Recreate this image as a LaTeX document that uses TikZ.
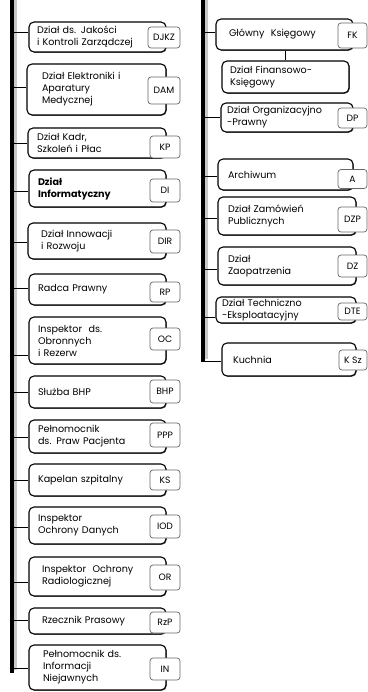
\documentclass[tikz,border=0pt]{standalone}
\usepackage{fontspec}
\setmainfont{Poppins}
\usetikzlibrary{shadows}
\tikzset{
  mainbox/.style={draw=black, line width=1.1pt, rounded corners=5pt, fill=white,
    align=left, font=\fontsize{9.6}{12}\selectfont, inner ysep=0pt,
    drop shadow={shadow xshift=0.8pt, shadow yshift=-0.8pt, opacity=0.55, fill=black}},
  codebox/.style={draw=black!60, line width=0.7pt, rounded corners=3pt, fill=white,
    font=\fontsize{9.2}{10}\selectfont, inner sep=0pt},
  bar/.style={line width=3.6pt, line cap=butt},
  barshadow/.style={line width=3pt, draw=black!30, opacity=0.7},
  conn/.style={line width=1pt}
}
% #1 name, #2 cx, #3 cy, #4 w, #5 h, #6 pad, #7 text
\newcommand{\obox}[7]{%
  \node[mainbox, minimum width=#4pt, minimum height=#5pt, inner xsep=#6pt,
    text width=#4pt-2*#6pt] (#1) at (#2,#3) {#7};}
% #1 name, #2 cx, #3 cy, #4 w, #5 h, #6 text
\newcommand{\cbox}[6]{%
  \node[codebox, minimum width=#4pt, minimum height=#5pt] (#1) at (#2,#3) {#6};}
\begin{document}
\begin{tikzpicture}[x=1pt,y=-1pt]
\useasboundingbox (0,0) rectangle (367,692);
% bars
\coordinate (LT) at (12,0);
\coordinate (LB) at (12,673);
\coordinate (RT) at (203,0);
\coordinate (RB) at (203,362);
\draw[barshadow] ([xshift=3pt]LT) -- ([xshift=3pt,yshift=3pt]LB);
\draw[barshadow] ([xshift=3pt]RT) -- ([xshift=3pt,yshift=3pt]RB);
\draw[bar] (LT) -- (LB);
\draw[bar] (RT) -- (RB);

% left column
\obox{b1}{97.5}{37}{137}{30}{8}{Dział ds. Jakości\\i Kontroli Zarządczej}
\obox{b2}{96.5}{89.5}{139}{51}{15}{Dział Elektroniki i\\Aparatury\\Medycznej}
\obox{b3}{97}{143}{138}{30}{9}{Dział Kadr,\\Szkoleń i Płac}
\obox{b4}{97.5}{188.5}{137}{37}{9}{\textbf{Dział}\\\textbf{Informatyczny}}
\obox{b5}{97}{241}{138}{36}{13}{Dział Innowacji\\i Rozwoju}
\obox{b6}{97.5}{289.5}{137}{31}{9}{Radca Prawny}
\obox{b7}{97.5}{340.5}{137}{47}{9}{Inspektor\ \ ds.\\Obronnych\\i Rezerw}
\obox{b8}{97.5}{392}{137}{32}{9}{Służba BHP}
\obox{b9}{97.5}{436.5}{137}{33}{9}{Pełnomocnik\\ds. Praw Pacjenta}
\obox{b10}{97.5}{480}{137}{32}{9}{Kapelan szpitalny}
\obox{b11}{97.5}{525.5}{137}{37}{9}{Inspektor\\Ochrony Danych}
\obox{b12}{97.5}{576.5}{137}{39}{13}{Inspektor\ \ Ochrony\\Radiologicznej}
\obox{b13}{97.5}{621}{137}{26}{13}{Rzecznik Prasowy}
\obox{b14}{97.5}{667.5}{137}{45}{14}{Pełnomocnik ds.\\Informacji\\Niejawnych}

\cbox{c1}{164}{37.5}{32}{21}{DJKZ}
\cbox{c2}{164}{90.5}{32}{27}{DAM}
\cbox{c3}{165}{147}{30}{22}{KP}
\cbox{c4}{165}{190.5}{30}{23}{DI}
\cbox{c5}{165}{241.5}{30}{23}{DIR}
\cbox{c6}{165}{292}{30}{20}{RP}
\cbox{c7}{165}{339}{30}{22}{OC}
\cbox{c8}{165}{391.5}{30}{23}{BHP}
\cbox{c9}{165}{435}{30}{24}{PPP}
\cbox{c10}{165}{480}{30}{20}{KS}
\cbox{c11}{165}{526.5}{30}{23}{IOD}
\cbox{c12}{165}{577.5}{30}{25}{OR}
\cbox{c13}{165}{622.5}{30}{21}{RzP}
\cbox{c14}{165}{669}{30}{22}{IN}

% left connectors
\foreach \n/\yy in {1/33,2/88,3/144,4/192,5/243,6/288,7/355,8/392,9/437,10/480,11/527,12/582,13/620,14/668}{
  \coordinate (l\n) at (12,\yy);
  \draw[conn] (l\n) -- (l\n -| b\n.west);
}

% right column
\obox{r1}{284.5}{34.5}{137}{31}{13}{Główny\ \ Księgowy}
\obox{r2}{285.5}{77}{127}{32}{8}{Dział Finansowo-\\Księgowy}
\obox{r3}{287}{117.5}{132}{29}{6}{Dział Organizacyjno\\-Prawny}
\obox{r4}{285.5}{174.5}{135}{31}{10}{Archiwum}
\obox{r5}{287}{216}{138}{38}{10}{Dział Zamówień\\Publicznych}
\obox{r6}{287}{266}{138}{38}{10}{Dział\\Zaopatrzenia}
\obox{r7}{286}{310}{140}{26}{6}{Dział Techniczno\\-Eksploatacyjny}
\obox{r8}{289}{359.5}{134}{33}{11}{Kuchnia}

\cbox{d1}{352.5}{35.5}{29}{25}{FK}
\cbox{d3}{352.5}{118}{29}{20}{DP}
\cbox{d4}{352.5}{179}{29}{19}{A}
\cbox{d5}{352.5}{219.5}{29}{25}{DZP}
\cbox{d6}{352.5}{266}{29}{22}{DZ}
\cbox{d7}{352.5}{311.5}{29}{17}{DTE}
\cbox{d8}{353}{360}{28}{20}{K Sz}

\draw[conn, line width=1.6pt] (r1.south -| r2.north) -- (r2.north);
\foreach \n/\yy in {1/33,3/118,4/177,5/219,6/269,7/317,8/361}{
  \coordinate (q\n) at (203,\yy);
  \draw[conn] (q\n) -- (q\n -| r\n.west);
}
\end{tikzpicture}
\end{document}
